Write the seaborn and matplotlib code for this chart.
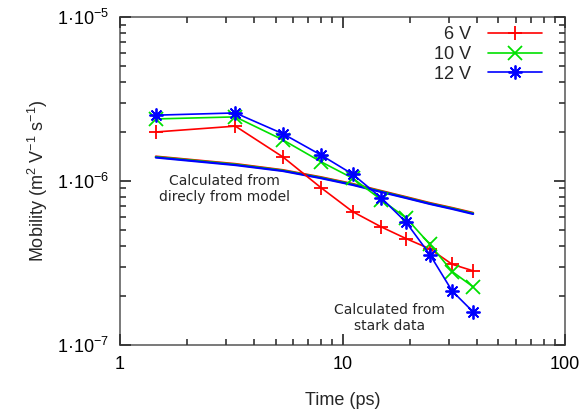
import numpy as np
import pandas as pd
import seaborn as sns
import matplotlib
matplotlib.use("Agg")
import matplotlib.pyplot as plt
from matplotlib.ticker import NullFormatter

# time points (ps)
time_ps = [1.45, 3.3, 5.4, 8.0, 11.1, 14.9, 19.3, 24.7, 31.1, 38.6]

# mobility from stark data (m^2 V^-1 s^-1)
mob_6v = [1.99e-6, 2.16e-6, 1.40e-6, 9.1e-7, 6.5e-7, 5.25e-7, 4.45e-7, 3.85e-7, 3.1e-7, 2.83e-7]
mob_10v = [2.39e-6, 2.46e-6, 1.78e-6, 1.31e-6, 1.04e-6, 7.7e-7, 5.95e-7, 4.1e-7, 2.8e-7, 2.26e-7]
mob_12v = [2.52e-6, 2.60e-6, 1.94e-6, 1.44e-6, 1.10e-6, 7.9e-7, 5.6e-7, 3.55e-7, 2.13e-7, 1.59e-7]

# mobility calculated directly from the model
model_6v = [1.41e-6, 1.27e-6, 1.165e-6, 1.055e-6, 9.6e-7, 8.7e-7, 7.98e-7, 7.34e-7, 6.85e-7, 6.39e-7]
model_10v = [1.40e-6, 1.26e-6, 1.157e-6, 1.047e-6, 9.53e-7, 8.63e-7, 7.92e-7, 7.28e-7, 6.8e-7, 6.34e-7]
model_12v = [1.39e-6, 1.25e-6, 1.15e-6, 1.04e-6, 9.46e-7, 8.57e-7, 7.87e-7, 7.24e-7, 6.75e-7, 6.29e-7]

labels = ["6 V", "10 V", "12 V"]
colors = ["#ff0000", "#00e000", "#0000ff"]
markers = ["+", "x", (8, 2, 0)]

y_ticks = [1e-7, 1e-6, 1e-5]
y_ticklabels = ["1·10$^{-7}$", "1·10$^{-6}$", "1·10$^{-5}$"]
x_ticks = [1, 10, 100]
x_ticklabels = ["1", "10", "100"]

sns.set_style("ticks")
plt.rcParams["font.family"] = ["Liberation Sans", "DejaVu Sans"]
plt.rcParams["mathtext.default"] = "regular"

fig = plt.figure(figsize=(5.85, 4.16), dpi=100)
ax = fig.add_axes([0.205, 0.171, 0.761, 0.788])

# model curves first (drawn underneath)
for vals, c in zip([model_6v, model_10v, model_12v], colors):
    df = pd.DataFrame({"time": time_ps, "mobility": vals})
    sns.lineplot(data=df, x="time", y="mobility", color=c, lw=1.6,
                 legend=False, ax=ax)

handles = []
for vals, c, m in zip([mob_6v, mob_10v, mob_12v], colors, markers):
    df = pd.DataFrame({"time": time_ps, "mobility": vals})
    sns.lineplot(data=df, x="time", y="mobility", color=c, lw=1.2,
                 marker=m, markersize=10, markeredgewidth=1.3,
                 markeredgecolor=c, legend=False, ax=ax)
    handles.append(ax.get_lines()[-1])

ax.set_xscale("log")
ax.set_yscale("log")
ax.set_axisbelow(False)

# ticks: decades labelled, 2..9 of each decade as minor
ax.tick_params(which="major", direction="in", top=True, right=True,
               length=8, width=1.3, colors="#333333", labelcolor="black",
               labelsize=13, pad=8)
ax.tick_params(which="minor", direction="in", top=True, right=True,
               length=4.5, width=1.2, colors="#333333")
ax.xaxis.set_minor_formatter(NullFormatter())
ax.yaxis.set_minor_formatter(NullFormatter())
ax.set_xticks(x_ticks, x_ticklabels)
ax.set_yticks(y_ticks, y_ticklabels)
ax.set_xlim(1, 100)
ax.set_ylim(1e-7, 1e-5)

for sp in ax.spines.values():
    sp.set_color("#555555")
    sp.set_linewidth(1.1)

ax.set_xlabel("Time (ps)", fontsize=13, labelpad=14)
ax.set_ylabel("Mobility (m$^2$ V$^{-1}$ s$^{-1}$)", fontsize=13, labelpad=5)

ax.legend(handles, labels, loc="upper right", bbox_to_anchor=(0.972, 1.005),
          frameon=False, markerfirst=False, fontsize=13, handlelength=3.0,
          handletextpad=0.9, labelspacing=0.15, borderaxespad=0.2)

ax.text(2.95, 8.9e-7, "Calculated from\ndirecly from model", ha="center",
        va="center", fontsize=10, family="DejaVu Sans", linespacing=1.15)
ax.text(16.3, 1.46e-7, "Calculated from\nstark data", ha="center",
        va="center", fontsize=10, family="DejaVu Sans", linespacing=1.15)

fig.savefig("out.png", dpi=100)
